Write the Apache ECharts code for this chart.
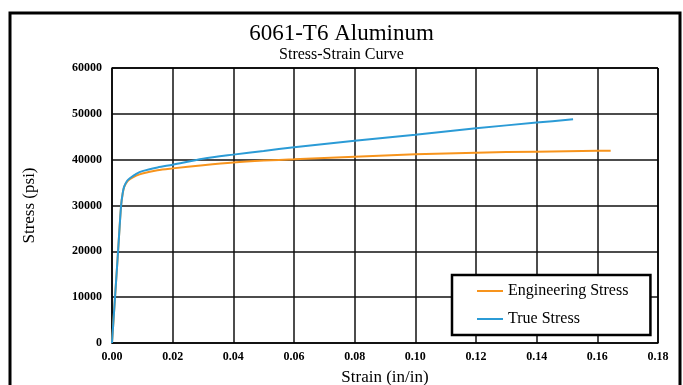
<!DOCTYPE html>
<html><head><meta charset="utf-8">
<script src="https://cdn.jsdelivr.net/npm/echarts@6/dist/echarts.min.js"></script>
<style>html,body{margin:0;padding:0;background:#fff}#c{width:683px;height:385px}</style>
</head><body><div id="c"></div>
<script>
const engStrain = [0, 0.001, 0.002, 0.003, 0.0035, 0.004, 0.005, 0.006, 0.008, 0.01, 0.015, 0.02, 0.03, 0.04, 0.05, 0.06, 0.08, 0.10, 0.12, 0.14, 0.16, 0.1644];
const engStress = [0, 10000, 20000, 30000, 32500, 34000, 35200, 35800, 36500, 37000, 37700, 38100, 38800, 39400, 39800, 40080, 40650, 41160, 41520, 41750, 41920, 41950];
const trueStrain = [0, 0.001, 0.002, 0.003, 0.0035, 0.004, 0.005, 0.006, 0.008, 0.01, 0.015, 0.02, 0.03, 0.04, 0.05, 0.06, 0.08, 0.10, 0.12, 0.14, 0.152];
const trueStress = [0, 10000, 20000, 30000, 32600, 34100, 35400, 36000, 36900, 37500, 38300, 38900, 40200, 41100, 41900, 42700, 44140, 45450, 46840, 48100, 48800];
const seriesNames = ['Engineering Stress', 'True Stress'];
const titleText = '6061-T6 Aluminum';
const subtitleText = 'Stress-Strain Curve';

const serif = '"Liberation Serif", "DejaVu Serif", serif';
const chart = echarts.init(document.getElementById('c'));
chart.setOption({
  animation: false,
  title: {
    text: titleText, subtext: subtitleText, left: 'center', top: 17, itemGap: 2,
    textStyle: { fontFamily: serif, fontSize: 23, fontWeight: 'normal', color: '#000' },
    subtextStyle: { fontFamily: serif, fontSize: 16, color: '#000' }
  },
  grid: { left: 112, right: 25, top: 68, bottom: 42, containLabel: false, outerBoundsMode: 'none' },
  legend: {
    left: 452, top: 275, orient: 'vertical', itemGap: 12,
    padding: [8, 22, 8, 25], borderColor: '#000', borderWidth: 2.5,
    backgroundColor: '#fff',
    icon: 'rect', itemWidth: 26, itemHeight: 2,
    textStyle: { fontFamily: serif, fontSize: 16, color: '#000' },
    data: seriesNames
  },
  xAxis: {
    type: 'value', min: 0, max: 0.18, interval: 0.02,
    name: 'Strain (in/in)', nameLocation: 'middle', nameGap: 26,
    nameTextStyle: { fontFamily: serif, fontSize: 17, color: '#000' },
    axisLine: { show: true, lineStyle: { color: '#000', width: 1.5 } },
    axisTick: { show: false },
    axisLabel: { fontFamily: serif, fontSize: 12, fontWeight: 'bold', color: '#000', margin: 8,
      formatter: v => v.toFixed(2) },
    splitLine: { show: true, lineStyle: { color: '#111', width: 1.5 } }
  },
  yAxis: {
    type: 'value', min: 0, max: 60000, interval: 10000,
    name: 'Stress (psi)', nameLocation: 'middle', nameGap: 74, nameRotate: 90,
    nameTextStyle: { fontFamily: serif, fontSize: 17, color: '#000' },
    axisLine: { show: true, lineStyle: { color: '#000', width: 1.5 } },
    axisTick: { show: false },
    axisLabel: { fontFamily: serif, fontSize: 12, fontWeight: 'bold', color: '#000', margin: 10,
      formatter: v => String(v) },
    splitLine: { show: true, lineStyle: { color: '#111', width: 1.5 } }
  },
  graphic: [{
    type: 'rect', z: 100, silent: true,
    shape: { x: 10, y: 13, width: 670, height: 390 },
    style: { fill: 'none', stroke: '#000', lineWidth: 3 }
  }, {
    type: 'line', z: 100, silent: true,
    shape: { x1: 658, y1: 68, x2: 658, y2: 343 },
    style: { stroke: '#000', lineWidth: 1.5 }
  }, {
    type: 'line', z: 100, silent: true,
    shape: { x1: 112, y1: 68, x2: 658, y2: 68 },
    style: { stroke: '#000', lineWidth: 1.5 }
  }],
  series: [{
    name: seriesNames[0], type: 'line', showSymbol: false, smooth: 0.3,
    lineStyle: { color: '#f7941d', width: 2 }, itemStyle: { color: '#f7941d' },
    data: engStrain.map((x, i) => [x, engStress[i]])
  }, {
    name: seriesNames[1], type: 'line', showSymbol: false, smooth: 0.3,
    lineStyle: { color: '#2b9bd6', width: 2 }, itemStyle: { color: '#2b9bd6' },
    data: trueStrain.map((x, i) => [x, trueStress[i]])
  }]
});
</script></body></html>
